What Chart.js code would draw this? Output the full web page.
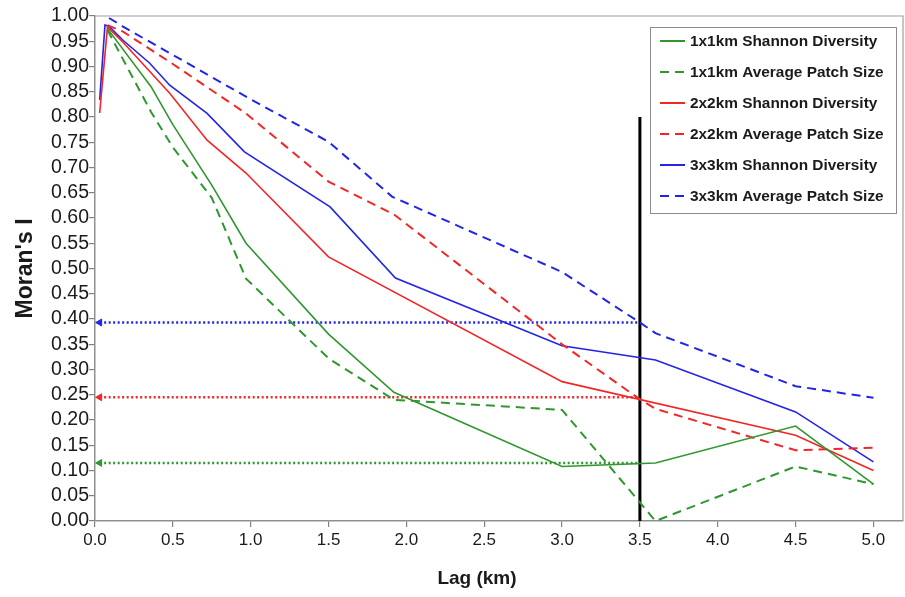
<!DOCTYPE html>
<html>
<head>
<script src="https://cdn.jsdelivr.net/npm/chart.js@4.4.0/dist/chart.umd.min.js"></script>
<style>
  body { margin: 0; padding: 0; background: white; }
  #wrap { width: 905px; height: 597px; }
</style>
</head>
<body>
<div id="wrap"><canvas id="chartCanvas" width="905" height="597"></canvas></div>
<script>
// Moran's I against lag (km)
const seriesNames = [
  '1x1km Shannon Diversity', '1x1km Average Patch Size',
  '2x2km Shannon Diversity', '2x2km Average Patch Size',
  '3x3km Shannon Diversity', '3x3km Average Patch Size'
];
const xTickValues = [0, 0.5, 1, 1.5, 2, 2.5, 3, 3.5, 4, 4.5, 5];

const lagS1 = [0.08, 0.36, 0.5, 0.75, 0.97, 1.5, 1.92, 3.0, 3.6, 4.5, 5.0];
const moranS1 = [0.975, 0.86, 0.785, 0.665, 0.55, 0.37, 0.255, 0.108, 0.115, 0.188, 0.073];

const lagP1 = [0.08, 0.36, 0.5, 0.75, 0.97, 1.5, 1.92, 3.0, 3.6, 4.5, 5.0];
const moranP1 = [0.972, 0.81, 0.74, 0.64, 0.48, 0.322, 0.24, 0.22, 0.0, 0.108, 0.073];

const lagS2 = [0.03, 0.08, 0.18, 0.48, 0.72, 0.97, 1.5, 3.0, 4.5, 5.0];
const moranS2 = [0.808, 0.978, 0.948, 0.847, 0.754, 0.689, 0.523, 0.276, 0.17, 0.10];

const lagP2 = [0.08, 0.18, 0.5, 0.97, 1.5, 1.92, 3.0, 3.5, 3.6, 4.5, 5.0];
const moranP2 = [0.982, 0.969, 0.905, 0.807, 0.672, 0.607, 0.35, 0.241, 0.222, 0.14, 0.145];

const lagS3 = [0.03, 0.064, 0.09, 0.18, 0.35, 0.48, 0.72, 0.96, 1.51, 1.93, 3.0, 3.6, 4.5, 5.0];
const moranS3 = [0.834, 0.982, 0.98, 0.952, 0.907, 0.863, 0.807, 0.731, 0.622, 0.481, 0.347, 0.319, 0.216, 0.117];

const lagP3 = [0.09, 0.18, 0.5, 1.0, 1.5, 1.91, 3.0, 3.5, 3.6, 4.5, 5.0];
const moranP3 = [0.996, 0.979, 0.923, 0.835, 0.751, 0.642, 0.493, 0.393, 0.372, 0.267, 0.244];

// threshold at 3.5 km and the Moran's I read-offs
const cutLag = [3.5, 3.5];
const cutMoran = [0, 0.80];
const guideLag = [0.03, 3.5];
const guideBlue = [0.393, 0.393];
const guideRed = [0.245, 0.245];
const guideGreen = [0.115, 0.115];

const GREEN = '#2f972f', RED = '#f22626', BLUE = '#2424e6';
const FONT = '"Liberation Sans", Arial, sans-serif';

function pts(xs, ys) {
  return xs.map((x, i) => ({ x, y: ys[i] }));
}

function series(label, xs, ys, color, dashed) {
  return {
    label,
    data: pts(xs, ys),
    borderColor: color,
    backgroundColor: color,
    borderWidth: dashed ? 2 : 1.6,
    borderDash: dashed ? [9, 6] : [],
    showLine: true,
    pointRadius: 0,
    tension: 0
  };
}

function guide(ys, color) {
  return {
    label: 'guide',
    data: pts(guideLag, ys),
    borderColor: color,
    backgroundColor: color,
    borderWidth: 2.5,
    borderDash: [2, 2.5],
    showLine: true,
    pointStyle: 'triangle',
    pointRotation: 270,
    pointRadius: [4, 0],
    pointBorderWidth: 1,
    clip: false
  };
}

// plot frame, x title and legend box inside the plot
const frameLegend = {
  id: 'frameLegend',
  afterDraw(chart) {
    const ctx = chart.ctx;
    const a = chart.chartArea;
    ctx.save();
    ctx.strokeStyle = '#a0a0a0';
    ctx.lineWidth = 1.2;
    ctx.beginPath();
    ctx.moveTo(a.left, a.top);
    ctx.lineTo(a.right, a.top);
    ctx.lineTo(a.right, a.bottom);
    ctx.stroke();

    ctx.fillStyle = '#1a1a1a';
    ctx.font = 'bold 19px ' + FONT;
    ctx.textAlign = 'center';
    ctx.textBaseline = 'middle';
    ctx.fillText('Lag (km)', 477, 579);

    const left = 650, top = 27, w = 246, h = 186;
    ctx.fillStyle = '#ffffff';
    ctx.fillRect(left, top, w, h);
    ctx.strokeStyle = '#8c8c8c';
    ctx.lineWidth = 1;
    ctx.strokeRect(left + 0.5, top + 0.5, w, h);

    ctx.font = 'bold 15.4px ' + FONT;
    ctx.textAlign = 'left';
    chart.data.datasets.slice(0, 6).forEach((ds, i) => {
      const y = top + 14 + i * 31;
      ctx.strokeStyle = ds.borderColor;
      ctx.lineWidth = 2;
      ctx.setLineDash(ds.borderDash.length ? [9, 6] : []);
      ctx.beginPath();
      ctx.moveTo(660, y);
      ctx.lineTo(685, y);
      ctx.stroke();
      ctx.setLineDash([]);
      ctx.fillStyle = '#1a1a1a';
      ctx.fillText(seriesNames[i], 690, y + 1);
    });
    ctx.restore();
  }
};

const ctx = document.getElementById('chartCanvas').getContext('2d');
new Chart(ctx, {
  type: 'scatter',
  data: {
    datasets: [
      series(seriesNames[0], lagS1, moranS1, GREEN, false),
      series(seriesNames[1], lagP1, moranP1, GREEN, true),
      series(seriesNames[2], lagS2, moranS2, RED, false),
      series(seriesNames[3], lagP2, moranP2, RED, true),
      series(seriesNames[4], lagS3, moranS3, BLUE, false),
      series(seriesNames[5], lagP3, moranP3, BLUE, true),
      guide(guideBlue, BLUE),
      guide(guideRed, RED),
      guide(guideGreen, GREEN),
      {
        label: 'cut',
        data: pts(cutLag, cutMoran),
        borderColor: '#000000',
        borderWidth: 3,
        showLine: true,
        pointRadius: 0
      }
    ]
  },
  options: {
    responsive: false,
    animation: false,
    layout: { autoPadding: false, padding: { left: 0, right: 2, top: 16, bottom: 0 } },
    plugins: {
      legend: { display: false },
      tooltip: { enabled: false }
    },
    scales: {
      x: {
        type: 'linear',
        min: 0,
        max: 5.19,
        afterFit: (s) => { s.height = 76; },
        afterBuildTicks: (s) => { s.ticks = xTickValues.map(v => ({ value: v })); },
        ticks: {
          stepSize: 0.5,
          color: '#1a1a1a',
          padding: 3,
          autoSkip: false,
          font: { family: FONT, size: 17 },
          callback: (v) => v.toFixed(1)
        },
        grid: { drawOnChartArea: false, drawTicks: true, tickLength: 6, color: '#808080', lineWidth: 1.2 },
        border: { display: true, color: '#909090', width: 1.5 }
      },
      y: {
        type: 'linear',
        min: 0,
        max: 1,
        afterFit: (s) => { s.width = 95; },
        ticks: {
          stepSize: 0.05,
          color: '#1a1a1a',
          padding: 0,
          autoSkip: false,
          font: { family: FONT, size: 19.5 },
          callback: (v) => v.toFixed(2)
        },
        grid: { drawOnChartArea: false, drawTicks: true, tickLength: 6, color: '#808080', lineWidth: 1.2 },
        border: { display: true, color: '#909090', width: 1.5 },
        title: {
          display: true,
          text: "Moran's I",
          color: '#1a1a1a',
          font: { family: FONT, size: 23, weight: 'bold' },
          padding: { top: 12, bottom: 0 }
        }
      }
    }
  },
  plugins: [frameLegend]
});
</script>
</body>
</html>
